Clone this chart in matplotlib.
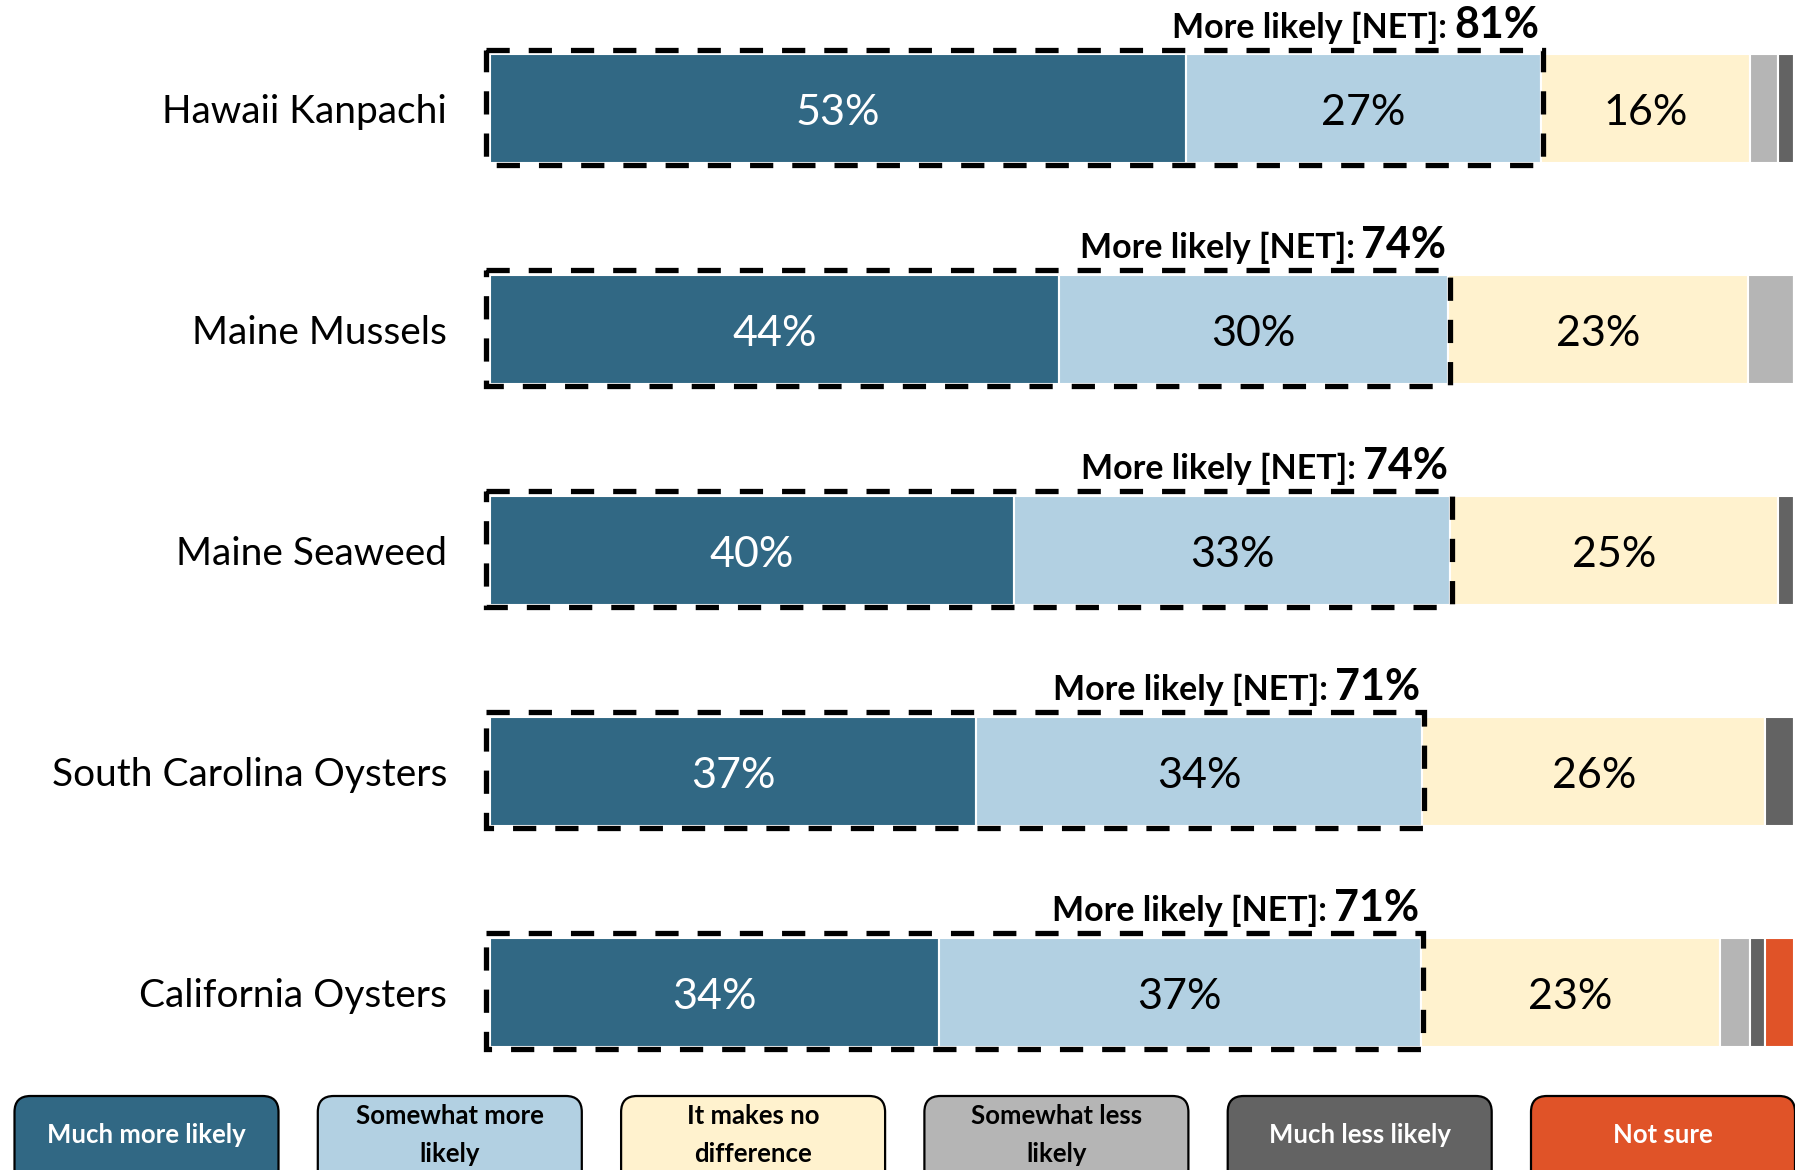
import matplotlib
matplotlib.use("Agg")
import matplotlib.pyplot as plt
from matplotlib.patches import Rectangle, FancyBboxPatch

plt.rcParams['font.family'] = ['Lato', 'DejaVu Sans']

# data (percent of respondents)
products = ["Hawaii Kanpachi", "Maine Mussels", "Maine Seaweed",
            "South Carolina Oysters", "California Oysters"]
much_more = [53.4, 43.6, 40.2, 37.3, 34.4]
somewhat_more = [27.2, 29.9, 33.4, 34.2, 37.0]
no_diff = [16.0, 23.0, 25.2, 26.3, 22.9]
somewhat_less = [2.2, 3.5, 0.0, 0.0, 2.3]
much_less = [1.2, 0.0, 1.2, 2.2, 1.2]
not_sure = [0.0, 0.0, 0.0, 0.0, 2.2]
net_more = [81, 74, 74, 71, 71]

series = [much_more, somewhat_more, no_diff, somewhat_less, much_less, not_sure]
legend_labels = ["Much more likely", "Somewhat more\nlikely", "It makes no\ndifference",
                 "Somewhat less\nlikely", "Much less likely", "Not sure"]
colors = ["#316884", "#B2D0E2", "#FFF2CE", "#B5B5B5", "#636363", "#E05328"]
text_colors = ["white", "black", "black", "black", "white", "white"]

W, H = 1795, 1170
fig = plt.figure(figsize=(W / 100, H / 100), dpi=100)

# main axes placed so bars start at x=490px and end at the right edge
ax = fig.add_axes([490 / W, 1 - 1091.5 / H, 1304 / W, (1091.5 - 9.1) / H])
ax.set_xlim(0, 100)
ax.set_ylim(4.45, -0.45)
for s in ax.spines.values():
    s.set_visible(False)
ax.set_xticks([])
ax.set_yticks(range(len(products)))
ax.set_yticklabels(products, fontsize=28)
ax.tick_params(axis='y', length=0, pad=31)

bar_h = 0.493
ypos = list(range(len(products)))
left = [0.0] * len(products)
for k, vals in enumerate(series):
    ax.barh(ypos, vals, left=left, height=bar_h, color=colors[k],
            edgecolor="white", linewidth=1.5)
    for i, v in enumerate(vals):
        if v >= 5:
            ax.text(left[i] + v / 2, i + 0.02, f"{round(v)}%", ha="center", va="center",
                    fontsize=31, color=text_colors[k])
    left = [a + b for a, b in zip(left, vals)]

# dashed box around the "more likely" segments + NET label
px_x = 100 / 1304
px_y = 1 / 220.9
fig.canvas.draw()
renderer = fig.canvas.get_renderer()
for i in range(len(products)):
    x0 = -4.5 * px_x
    x1 = much_more[i] + somewhat_more[i] + 2 * px_x
    y_top = i - bar_h / 2 - 4.5 * px_y
    y_bot = i + bar_h / 2 + 2.5 * px_y
    ax.add_patch(Rectangle((x0, y_top), x1 - x0, y_bot - y_top, fill=False,
                           edgecolor="black", linewidth=3.8,
                           linestyle=(0, (4.4, 3.6)), clip_on=False, zorder=5))
    pct = ax.annotate(f"{net_more[i]}%", xy=(x1, y_top), xytext=(-4, 12),
                      textcoords="offset pixels", ha="right", va="baseline",
                      fontsize=31, fontweight="bold", annotation_clip=False)
    bb = pct.get_window_extent(renderer)
    xl = ax.transData.inverted().transform((bb.x0, 0))[0]
    ax.annotate("More likely [NET]:", xy=(xl, y_top), xytext=(-7, 12),
                textcoords="offset pixels", ha="right", va="baseline",
                fontsize=24.5, fontweight="bold", annotation_clip=False)

# legend boxes along the bottom, in pixel coordinates
lax = fig.add_axes([0, 0, 1, 1], zorder=-1)
lax.set_xlim(0, W)
lax.set_ylim(H, 0)
lax.axis("off")
for k, lab in enumerate(legend_labels):
    bx = 14.5 + k * 303.3
    lax.add_patch(FancyBboxPatch((bx, 1096), 264, 100,
                                 boxstyle="round,pad=0,rounding_size=16",
                                 facecolor=colors[k], edgecolor="black", linewidth=1.6))
    lax.text(bx + 132, 1135, lab, ha="center", va="center", fontsize=18.5,
             fontweight="bold", color=text_colors[k], linespacing=1.65)

fig.savefig("out.png", dpi=100)
